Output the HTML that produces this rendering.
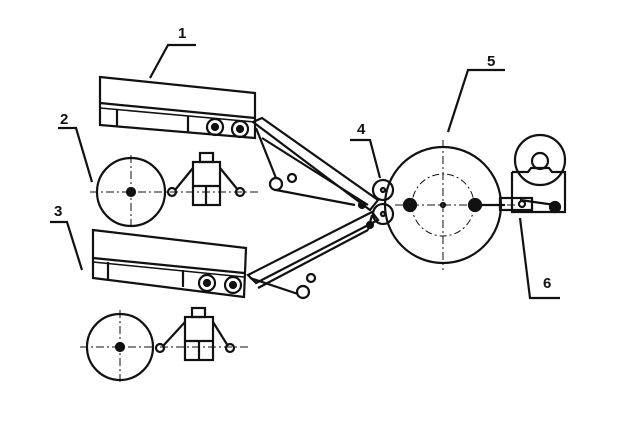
<!DOCTYPE html>
<html><head><style>body{margin:0;background:#fff}svg{display:block}text{font-family:"Liberation Sans",sans-serif;font-weight:bold;font-size:15px}</style></head><body>
<svg width="628" height="422" viewBox="0 0 628 422" fill="none" stroke="#111" stroke-width="2.2">
<!-- belt 1 -->
<polygon points="100,77 255,93 255,138 100,125"/>
<line x1="100" y1="103" x2="255" y2="118"/><line x1="100" y1="108" x2="255" y2="122" stroke-width="1.5"/>
<line x1="117" y1="109" x2="117" y2="127"/><line x1="188" y1="116" x2="188" y2="133"/>
<circle cx="215" cy="127" r="8"/><circle cx="215" cy="127" r="3" fill="#111"/>
<circle cx="240" cy="129" r="8"/><circle cx="240" cy="129" r="3" fill="#111"/>
<!-- upper arm -->
<polygon points="253,122 262,118 378,200 370,210"/>
<line x1="262" y1="138" x2="368" y2="205"/>
<polyline points="256,128 276,178"/><circle cx="276" cy="184" r="6"/><circle cx="292" cy="178" r="4"/>
<line x1="276" y1="190" x2="355" y2="205"/><circle cx="362" cy="205" r="3" fill="#111"/>
<!-- belt 3 -->
<polygon points="93,230 246,248 244,297 93,278"/>
<line x1="93" y1="258" x2="244" y2="273"/><line x1="93" y1="262" x2="244" y2="277" stroke-width="1.5"/>
<line x1="108" y1="262" x2="108" y2="280"/><line x1="183" y1="270" x2="183" y2="287"/>
<circle cx="207" cy="283" r="8"/><circle cx="207" cy="283" r="3" fill="#111"/>
<circle cx="233" cy="285" r="8"/><circle cx="233" cy="285" r="3" fill="#111"/>
<!-- lower arm -->
<polygon points="248,275 372,212 378,220 256,283"/>
<line x1="258" y1="288" x2="368" y2="230"/><line x1="368" y1="230" x2="372" y2="215"/>
<line x1="250" y1="278" x2="298" y2="294"/><circle cx="303" cy="292" r="6"/><circle cx="311" cy="278" r="4"/>
<circle cx="370" cy="225" r="3" fill="#111"/>
<!-- spool 2 -->
<circle cx="131" cy="192" r="34"/>
<g stroke-width="1" stroke-dasharray="8,3,2,3"><line x1="90" y1="192" x2="260" y2="192"/><line x1="131" y1="155" x2="131" y2="230"/></g>
<circle cx="131" cy="192" r="4" fill="#111"/>
<circle cx="172" cy="192" r="4"/><circle cx="240" cy="192" r="4"/>
<polyline points="175,190 193,168"/><polyline points="220,168 238,190"/>
<rect x="193" y="162" width="27" height="43"/><line x1="193" y1="186" x2="220" y2="186"/><line x1="206" y1="186" x2="206" y2="205"/>
<rect x="200" y="153" width="13" height="9"/>
<!-- spool lower -->
<circle cx="120" cy="347" r="33"/>
<g stroke-width="1" stroke-dasharray="8,3,2,3"><line x1="80" y1="347" x2="250" y2="347"/><line x1="120" y1="310" x2="120" y2="385"/></g>
<circle cx="120" cy="347" r="4" fill="#111"/>
<circle cx="160" cy="348" r="4"/><circle cx="230" cy="348" r="4"/>
<polyline points="163,346 185,322"/><polyline points="213,322 228,346"/>
<rect x="185" y="317" width="28" height="43"/><line x1="185" y1="341" x2="213" y2="341"/><line x1="199" y1="341" x2="199" y2="360"/>
<rect x="192" y="308" width="13" height="9"/>
<!-- roll 4 -->
<circle cx="383" cy="190" r="10"/><circle cx="383" cy="214" r="10"/>
<circle cx="383" cy="190" r="2"/><circle cx="383" cy="214" r="2"/>
<!-- drum 5 -->
<circle cx="443" cy="205" r="58"/>
<circle cx="443" cy="205" r="31" stroke-width="1" stroke-dasharray="7,3,2,3"/>
<g stroke-width="1" stroke-dasharray="8,3,2,3"><line x1="395" y1="205" x2="520" y2="205"/><line x1="443" y1="140" x2="443" y2="270"/></g>
<circle cx="410" cy="205" r="6" fill="#111"/><circle cx="475" cy="205" r="6" fill="#111"/><circle cx="443" cy="205" r="2"/>
<line x1="475" y1="205" x2="505" y2="205"/>
<!-- unit 6 -->
<circle cx="540" cy="160" r="25"/><circle cx="540" cy="161" r="8"/>
<polyline points="512,172 528,172 531,168 549,168 552,172 565,172 565,212 512,212 512,172"/>
<rect x="500" y="198" width="32" height="12"/><circle cx="522" cy="204" r="3"/><circle cx="555" cy="207" r="5" fill="#111"/>
<line x1="520" y1="200" x2="555" y2="205"/>
<!-- leaders -->
<polyline points="150,78 168,45 196,45"/>
<polyline points="58,128 76,128 92,182"/>
<polyline points="50,222 67,222 82,270"/>
<polyline points="350,140 370,140 380,178"/>
<polyline points="448,132 468,70 505,70"/>
<polyline points="520,218 530,298 560,298"/>
<g fill="#111" stroke="none">
<text x="178" y="38">1</text><text x="60" y="124">2</text><text x="54" y="216">3</text>
<text x="357" y="134">4</text><text x="487" y="66">5</text><text x="543" y="288">6</text></g>
</svg>
</body></html>
